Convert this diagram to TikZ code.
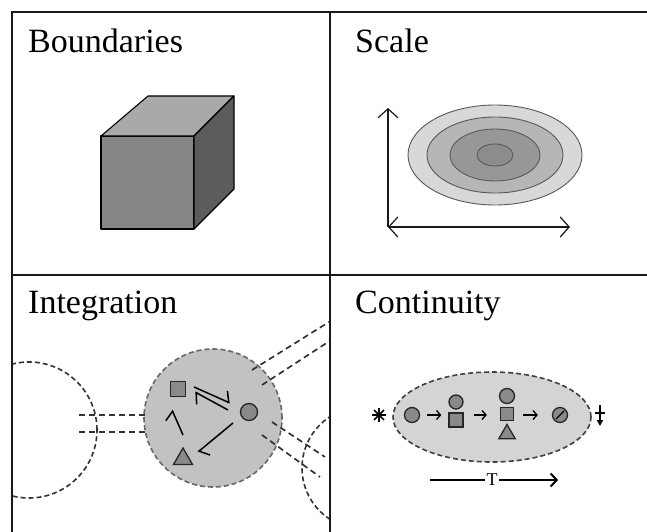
\documentclass[tikz,border=0pt]{standalone}
\usepackage{fontspec}
\setmainfont{Liberation Serif}
\usetikzlibrary{arrows.meta,shapes.geometric}

\definecolor{cubefront}{HTML}{868686}
\definecolor{cubetop}{HTML}{A9A9A9}
\definecolor{cubeside}{HTML}{5C5C5C}
\definecolor{ringA}{HTML}{D8D8D8}
\definecolor{ringB}{HTML}{B6B6B6}
\definecolor{ringC}{HTML}{979797}
\definecolor{ringD}{HTML}{8C8C8C}
\definecolor{cellfill}{HTML}{C2C2C2}
\definecolor{bodyfill}{HTML}{D4D4D4}
\definecolor{itemfill}{HTML}{8A8A8A}

\tikzset{
  frame/.style={line width=1.3pt,draw=black!90},
  title/.style={anchor=base west,inner sep=0pt,font=\fontsize{34}{40}\selectfont},
  axis/.style={line width=1.2pt,draw=black!90,>={Straight Barb[length=9pt,width=20pt]}},
  ring/.style={line width=0.9pt,draw=black!65},
  item/.style={draw=black!85,fill=itemfill,line width=1.3pt,inner sep=0pt},
  sqr/.style={item,rectangle,minimum size=#1},
  dot/.style={item,circle,minimum size=#1},
  tri/.style={item,regular polygon,regular polygon sides=3,minimum size=#1},
  harp/.style={line width=1.5pt,-{Straight Barb[left,length=6pt,width=20pt]}},
  dline/.style={dash pattern=on 6pt off 4pt,line width=1.7pt,draw=black!80},
  cell/.style={circle,dash pattern=on 5pt off 3pt,line width=1.6pt,draw=black!60},
  step arrow/.style={line width=1.3pt,-{Straight Barb[length=4pt,width=9pt]}},
  tline/.style={line width=2pt}
}

\begin{document}
\begin{tikzpicture}[x=1pt,y=-1pt]
\useasboundingbox (0,0) rectangle (647,532);

\node[title] (tbound) at (28,53) {Boundaries};
\node[title] (tscale) at (355,53) {Scale};
\node[title] (tinteg) at (28,313) {Integration};
\node[title] (tcont) at (355,313) {Continuity};

\coordinate (A) at (101,136);
\coordinate (B) at (194,136);
\coordinate (C) at (194,229);
\coordinate (D) at (101,229);
\coordinate (E) at (148,96);
\coordinate (F) at (234,96);
\coordinate (G) at (234,189);
\filldraw[fill=cubefront,line width=1.1pt,line join=round] (A) -- (B) -- (C) -- (D) -- cycle;
\filldraw[fill=cubetop,line width=1.1pt,line join=round] (A) -- (E) -- (F) -- (B) -- cycle;
\filldraw[fill=cubeside,line width=1.1pt,line join=round] (B) -- (F) -- (G) -- (C) -- cycle;

\coordinate (sc) at (495,155);
\foreach \rx/\ry/\c in {87/50/ringA,68/38/ringB,45/26/ringC,18/11/ringD} {
    \filldraw[ring,fill=\c] (sc) ellipse ({\rx} and {\ry});
}
\coordinate (orig) at (388,227);
\coordinate (ytop) at (388,108);
\coordinate (xend) at (570,227);
\draw[axis,->] (orig) -- (ytop);
\draw[axis,<->] (orig) -- (xend);

\begin{scope}
    \clip (12,275) rectangle (330,532);
    \node[cell,draw=black!80,minimum size=136pt] (ileft) at (29,430) {};
    \node[cell,draw=black!80,minimum size=122pt] (iright) at (363,468) {};
    \node[cell,fill=cellfill,minimum size=138pt] (icell) at (213,418) {};
    \draw[dline] ([shift={(50,-15)}]ileft.center) -- ([shift={(-68,-3)}]icell.center);
    \draw[dline] ([shift={(50,2)}]ileft.center) -- ([shift={(-68,14)}]icell.center);
    \draw[dline] ([shift={(39,-48)}]icell.center) -- ([shift={(132,-106)}]icell.center);
    \draw[dline] ([shift={(49,-33)}]icell.center) -- ([shift={(132,-87)}]icell.center);
    \draw[dline] ([shift={(59,4)}]icell.center) -- ([shift={(-38,-11)}]iright.center);
    \draw[dline] ([shift={(49,17)}]icell.center) -- ([shift={(-43,9)}]iright.center);
\end{scope}

\node[sqr=15pt] (isq) at (178,389) {};
\node[dot=17pt] (idot) at (249,412) {};
\node[tri=22pt] (itri) at (183,459) {};
\draw[harp] ([shift={(16,-2)}]isq.center) -- ([shift={(-19,-9)}]idot.center);
\draw[harp] ([shift={(-21,-2)}]idot.center) -- ([shift={(17,3)}]isq.center);
\draw[harp] ([shift={(0,-24)}]itri.center) -- ([shift={(-6,21)}]isq.center);
\draw[harp] ([shift={(-16,11)}]idot.center) -- ([shift={(15,-7)}]itri.center);

\node[cell,fill=bodyfill,draw=black!75,ellipse,minimum width=198pt,minimum height=90pt] (cbody) at (492,417) {};
\coordinate (cstar) at (379,415);
\foreach \a in {0,45,90,135} {
    \draw[line width=1.6pt] ([shift={(\a:7)}]cstar) -- ([shift={(\a+180:7)}]cstar);
}
\node[dot=15pt] (c1) at (412,415) {};
\node[dot=14pt] (c2dot) at (456,402) {};
\node[sqr=14pt] (c2sq) at (456,420) {};
\node[dot=15pt] (c3dot) at (507,396) {};
\node[sqr=13pt] (c3sq) at (507,414) {};
\node[tri=19pt] (c3tri) at (507,434) {};
\node[dot=15pt] (c4) at (560,415) {};
\draw[line width=1.3pt] ([shift={(-4,4)}]c4.center) -- ([shift={(4,-4)}]c4.center);
\draw[step arrow,shorten <=7pt,shorten >=7pt] (c1) -- (c1 -| c2sq.west);
\draw[step arrow,shorten <=10pt,shorten >=13pt] (c2sq.east |- c1) -- (c1 -| c3sq.west);
\draw[step arrow,shorten <=9pt,shorten >=14pt] (c3sq.east |- c1) -- (c4);
\coordinate (cend) at (600,415);
\draw[line width=1.3pt,-{Triangle[length=6pt,width=6pt]}] ([shift={(0,-10)}]cend) -- ([shift={(0,11)}]cend);
\draw[line width=1.3pt] ([shift={(-5,-2)}]cend) -- ([shift={(5,-2)}]cend);

\node[inner sep=1.5pt,font=\fontsize{18}{20}\selectfont] (tlab) at (492,480) {T};
\coordinate (tstart) at (430,480);
\coordinate (tend) at (558,480);
\draw[tline] (tstart) -- (tlab);
\draw[tline,-{Straight Barb[length=6pt,width=13pt]}] (tlab) -- (tend);

\draw[frame] (12,532) -- (12,12) -- (647,12);
\draw[frame] (330,12) -- (330,532);
\draw[frame] (12,275) -- (647,275);
\end{tikzpicture}
\end{document}
